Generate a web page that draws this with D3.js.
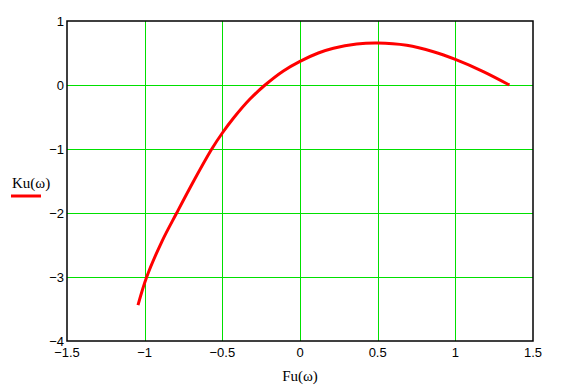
<!DOCTYPE html>
<meta charset="utf-8">
<head>
<style>
  body { margin: 0; background: #fff; }
  .tick-label { font-family: "Liberation Sans", Arial, sans-serif; font-size: 13px; fill: #000; }
  .axis-title { font-family: "Liberation Serif", "Times New Roman", serif; font-size: 15px; fill: #000; }
</style>
</head>
<body>
<div class="chart"></div>
<script src="https://d3js.org/d3.v7.min.js"></script>
<script>
  // curve samples: Fu(w) vs Ku(w)
  var fu = [-1.043, -0.987, -0.89, -0.794, -0.68, -0.568, -0.5, -0.429, -0.322, -0.225, -0.107, 0, 0.118, 0.215, 0.365, 0.498, 0.687, 0.859, 1.0, 1.18, 1.348];
  var ku = [-3.44, -3.0, -2.45, -2.0, -1.48, -1.0, -0.75, -0.52, -0.22, 0, 0.22, 0.37, 0.50, 0.575, 0.64, 0.656, 0.62, 0.52, 0.40, 0.21, 0];

  var xTicks = [-1.5, -1, -0.5, 0, 0.5, 1, 1.5];
  var yTicks = [1, 0, -1, -2, -3, -4];

  var width = 566, height = 390;
  var plotLeft = 67, plotRight = 533, plotTop = 21, plotBottom = 341;

  var svg = d3.select(".chart").append("svg")
    .attr("width", width)
    .attr("height", height);

  var x = d3.scaleLinear().domain([-1.5, 1.5]).range([plotLeft, plotRight]);
  var y = d3.scaleLinear().domain([-4, 1]).range([plotBottom, plotTop]);

  // grid
  svg.selectAll(".vgrid")
    .data(xTicks.slice(1, -1))
    .enter().append("line")
    .attr("x1", function (d) { return Math.round(x(d)) + 0.5; })
    .attr("x2", function (d) { return Math.round(x(d)) + 0.5; })
    .attr("y1", plotTop).attr("y2", plotBottom)
    .attr("stroke", "#00e000").attr("stroke-width", 1);

  svg.selectAll(".hgrid")
    .data(yTicks.slice(1, -1))
    .enter().append("line")
    .attr("y1", function (d) { return Math.round(y(d)) + 0.5; })
    .attr("y2", function (d) { return Math.round(y(d)) + 0.5; })
    .attr("x1", plotLeft).attr("x2", plotRight)
    .attr("stroke", "#00e000").attr("stroke-width", 1);

  // frame
  svg.append("rect")
    .attr("x", plotLeft).attr("y", plotTop)
    .attr("width", plotRight - plotLeft).attr("height", plotBottom - plotTop)
    .attr("fill", "none").attr("stroke", "#000").attr("stroke-width", 1.5);

  // tick labels
  function fmt(d) { return d < 0 ? "\u2212" + Math.abs(d) : String(d); }

  svg.selectAll(".xlab")
    .data(xTicks)
    .enter().append("text")
    .attr("class", "tick-label")
    .attr("x", function (d) { return x(d); })
    .attr("y", plotBottom + 16)
    .attr("text-anchor", "middle")
    .text(fmt);

  svg.selectAll(".ylab")
    .data(yTicks)
    .enter().append("text")
    .attr("class", "tick-label")
    .attr("x", plotLeft - 3)
    .attr("y", function (d) { return y(d) + 5; })
    .attr("text-anchor", "end")
    .text(fmt);

  // curve
  var pts = fu.map(function (v, i) { return [v, ku[i]]; });
  svg.append("path")
    .datum(pts)
    .attr("fill", "none")
    .attr("stroke", "#ff0000")
    .attr("stroke-width", 3)
    .attr("d", d3.line()
      .x(function (d) { return x(d[0]); })
      .y(function (d) { return y(d[1]); })
      .curve(d3.curveCatmullRom));

  // axis titles
  svg.append("text").attr("class", "axis-title")
    .attr("x", 12).attr("y", 188).text("Ku(\u03c9)");
  svg.append("line")
    .attr("x1", 11).attr("x2", 41).attr("y1", 196).attr("y2", 196)
    .attr("stroke", "#ff0000").attr("stroke-width", 3);

  svg.append("text").attr("class", "axis-title")
    .attr("x", 300).attr("y", 381).attr("text-anchor", "middle")
    .text("Fu(\u03c9)");
</script>
</body>
